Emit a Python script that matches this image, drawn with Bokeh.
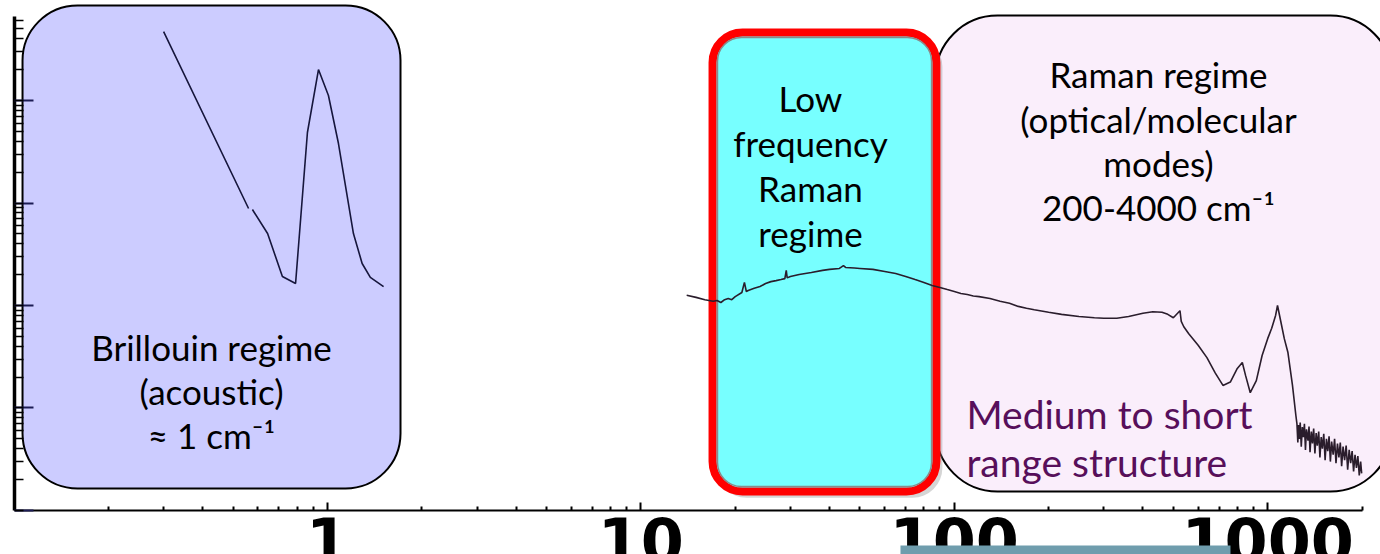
from bokeh.plotting import figure
from bokeh.models import Range1d, FixedTicker, Label, BoxAnnotation, NumeralTickFormatter
from bokeh.embed import file_html
from bokeh.resources import INLINE

nan = float("nan")

# ---------------- data ----------------
# Brillouin spectrum (wavenumber in cm-1, intensity in a.u.); nan marks the gap in the trace
brillouin_x = [0.300, 0.560, nan, 0.576, 0.644, 0.718, 0.791, 0.863, 0.936, 1.007, 1.084, 1.21, 1.29, 1.37, 1.51]
brillouin_y = [47100, 884, nan, 865, 504, 192, 164, 4875, 20050, 11190, 3805, 504, 257, 188, 153]

# Raman spectrum (wavenumber in cm-1, intensity in a.u.)
raman_x = [14, 15, 16, 17, 17.5, 18, 18.5, 19, 19.5, 20, 21, 21.4, 21.7, 22, 23, 24, 25, 26, 27, 28,
           28.8, 29.1, 29.3, 30, 32, 35, 38, 40, 43, 44.3, 45, 48, 50, 55, 60, 65, 70, 75, 80, 85,
           90, 95, 100, 105, 110, 115, 120, 130, 140, 150, 160, 170, 180, 200, 220, 250, 280, 300,
           330, 360, 400, 430, 460, 480, 500, 525, 530, 540, 560, 600, 640, 680, 720, 760, 800, 830,
           850, 880, 920, 960, 1000, 1030, 1060, 1075, 1100, 1130, 1160, 1200, 1230,
           1240, 1248, 1255, 1262, 1270, 1280, 1290, 1300, 1310, 1320, 1330, 1345, 1355, 1365, 1378,
           1390, 1402, 1415, 1428, 1440, 1455, 1468, 1482, 1495, 1510, 1525, 1540, 1555, 1570, 1585,
           1600, 1618, 1635, 1652, 1670, 1688, 1705, 1722, 1740, 1760, 1780, 1800, 1820, 1840, 1860,
           1880, 1900, 1920, 1940, 1960, 1980, 1995]
raman_y = [126, 120, 114, 110, 112, 107, 114, 117, 114, 122, 134, 168, 137, 140, 147, 153, 164, 171, 175, 179,
           183, 220, 186, 192, 201, 210, 220, 225, 230, 245, 235, 232, 230, 225, 215, 205, 192, 179, 168, 157,
           150, 143, 137, 131, 128, 124, 122, 117, 110, 105, 98, 94, 91, 86, 82, 78, 76, 75,
           75, 78, 84, 87, 86, 82, 76, 89, 70, 62, 53, 41, 31, 22, 16.6, 17.9, 24.3, 27.8,
           20.8, 14.1, 18.5, 32.5, 47.5, 60, 80, 100, 71, 47.5, 35, 16.6, 8.5,
           7.0, 4.6, 6.8, 5.0, 7.2, 4.2, 6.5, 5.2, 7.0, 3.9, 6.2, 4.8, 6.6, 3.7, 5.9,
           4.5, 6.3, 3.6, 5.7, 4.3, 5.9, 3.3, 5.2, 4.0, 5.6, 3.1, 5.0, 3.8, 5.3, 3.0,
           4.7, 3.5, 5.0, 2.9, 4.5, 3.3, 4.6, 2.7, 4.2, 3.1, 4.3, 2.5, 3.9, 2.9, 3.8,
           2.4, 3.5, 2.6, 3.4, 2.2, 3.0, 2.3]

# axis ticks (wavenumber, cm-1)
x_major_ticks = [1, 10, 100, 1000]
x_minor_ticks = [0.2, 0.3, 0.4, 0.5, 0.6, 0.7, 0.8, 0.9,
                 2, 3, 4, 5, 6, 7, 8, 9,
                 20, 30, 40, 50, 60, 70, 80, 90,
                 200, 300, 400, 500, 600, 700, 800, 900, 2000]

# regime regions (x: cm-1, y: a.u.)
brillouin_box = dict(left=0.1064, right=1.710, top=84500, bottom=1.639)
lowfreq_box = dict(left=16.93, right=87.7, top=46060, bottom=1.532)
raman_box = dict(left=87.1, right=2500, top=67500, bottom=1.532)

# ---------------- figure ----------------
W, H = 1380, 554
p = figure(width=W, height=H, x_axis_type="log", y_axis_type="log",
           x_range=Range1d(0.0905, 2291), y_range=Range1d(0.372, 94600),
           output_backend="svg", toolbar_location=None, min_border=0)
p.xgrid.visible = False
p.ygrid.visible = False
p.outline_line_color = None
p.background_fill_color = "white"
p.border_fill_color = "white"

# Brillouin box
p.quad(left=[brillouin_box["left"]], right=[brillouin_box["right"]],
       top=[brillouin_box["top"]], bottom=[brillouin_box["bottom"]],
       fill_color="#CCCCFF", line_color="black", line_width=2, border_radius=55)
# Raman box
p.quad(left=[raman_box["left"]], right=[raman_box["right"]],
       top=[raman_box["top"]], bottom=[raman_box["bottom"]],
       fill_color="#FAEEFB", line_color="black", line_width=2, border_radius=62)
# low-frequency box: shadow, red frame, inner grey rim
p.quad(left=[lowfreq_box["left"] * 1.03], right=[lowfreq_box["right"] * 1.045],
       top=[lowfreq_box["top"] * 0.91], bottom=[lowfreq_box["bottom"] * 0.87],
       fill_color="#888888", fill_alpha=0.35, line_color=None, border_radius=30)
p.quad(left=[lowfreq_box["left"]], right=[lowfreq_box["right"]],
       top=[lowfreq_box["top"]], bottom=[lowfreq_box["bottom"]],
       fill_color="#77FFFF", line_color="#FF0000", line_width=8, border_radius=30)
p.quad(left=[lowfreq_box["left"] * 1.037], right=[lowfreq_box["right"] * 0.965],
       top=[lowfreq_box["top"] * 0.895], bottom=[lowfreq_box["bottom"] * 1.12],
       fill_color=None, line_color="#8a8a8a", line_width=1.5, border_radius=24)

# spectra
p.line(brillouin_x, brillouin_y, line_color="#16163c", line_width=1.6)
p.line(raman_x, raman_y, line_color="#2a1d2c", line_width=1.6)

# axes
xa = p.xaxis[0]
xa.ticker = FixedTicker(ticks=x_major_ticks, minor_ticks=x_minor_ticks)
xa.formatter = NumeralTickFormatter(format="0")
xa.fixed_location = 1
xa.bounds = (0.1, 2000)
xa.axis_line_width = 2
xa.major_tick_in = 8
xa.major_tick_out = 0
xa.minor_tick_in = 4
xa.minor_tick_out = 0
xa.major_tick_line_width = 2
xa.minor_tick_line_width = 2
xa.major_label_text_font = "DejaVu Sans"
xa.major_label_text_font_size = "62px"
xa.major_label_text_font_style = "bold"
xa.major_label_text_color = "black"
xa.major_label_standoff = 7

ya = p.yaxis[0]
ya.fixed_location = 0.1
ya.bounds = (1, 66000)
ya.axis_line_width = 3.5
ya.major_tick_in = 19
ya.major_tick_out = 0
ya.major_tick_line_color = "#1c1c54"
ya.major_tick_line_width = 2
ya.minor_tick_in = 9
ya.minor_tick_out = 0
ya.minor_tick_line_width = 1.5
ya.major_label_text_font_size = "8px"
ya.major_label_text_alpha = 0


# pixel position -> data position (for annotation placement)
def dx(px):
    return 10 ** ((px - 327) / 313.4)


def dy(py):
    return 10 ** ((510 - py) / 102.5)


def lab(text, px, py, size=35, color="black", align="center"):
    p.add_layout(Label(x=dx(px), y=dy(py), text=text,
                       text_font="Lato", text_font_size=f"{size}px", text_color=color,
                       text_align=align, text_baseline="middle"))


lab("Brillouin regime", 211, 347)
lab("(acoustic)", 211, 391)
lab("≈ 1 cm⁻¹", 211, 435)
lab("Low", 810, 97)
lab("frequency", 810, 142)
lab("Raman", 810, 187)
lab("regime", 810, 232)
lab("Raman regime", 1158, 73)
lab("(optical/molecular", 1158, 118)
lab("modes)", 1158, 162)
lab("200-4000 cm⁻¹", 1158, 206)
lab("Medium to short", 966, 414, size=39, color="#570F5A", align="left")
lab("range structure", 966, 462, size=39, color="#570F5A", align="left")

# grey-blue slide element overlapping the bottom labels
p.add_layout(BoxAnnotation(left=dx(900), right=dx(1230), top=dy(545), bottom=0.3,
                           fill_color="#6F9DAD", fill_alpha=1, line_alpha=0, level="overlay"))

open("out.html", "w").write(file_html(p, INLINE))
